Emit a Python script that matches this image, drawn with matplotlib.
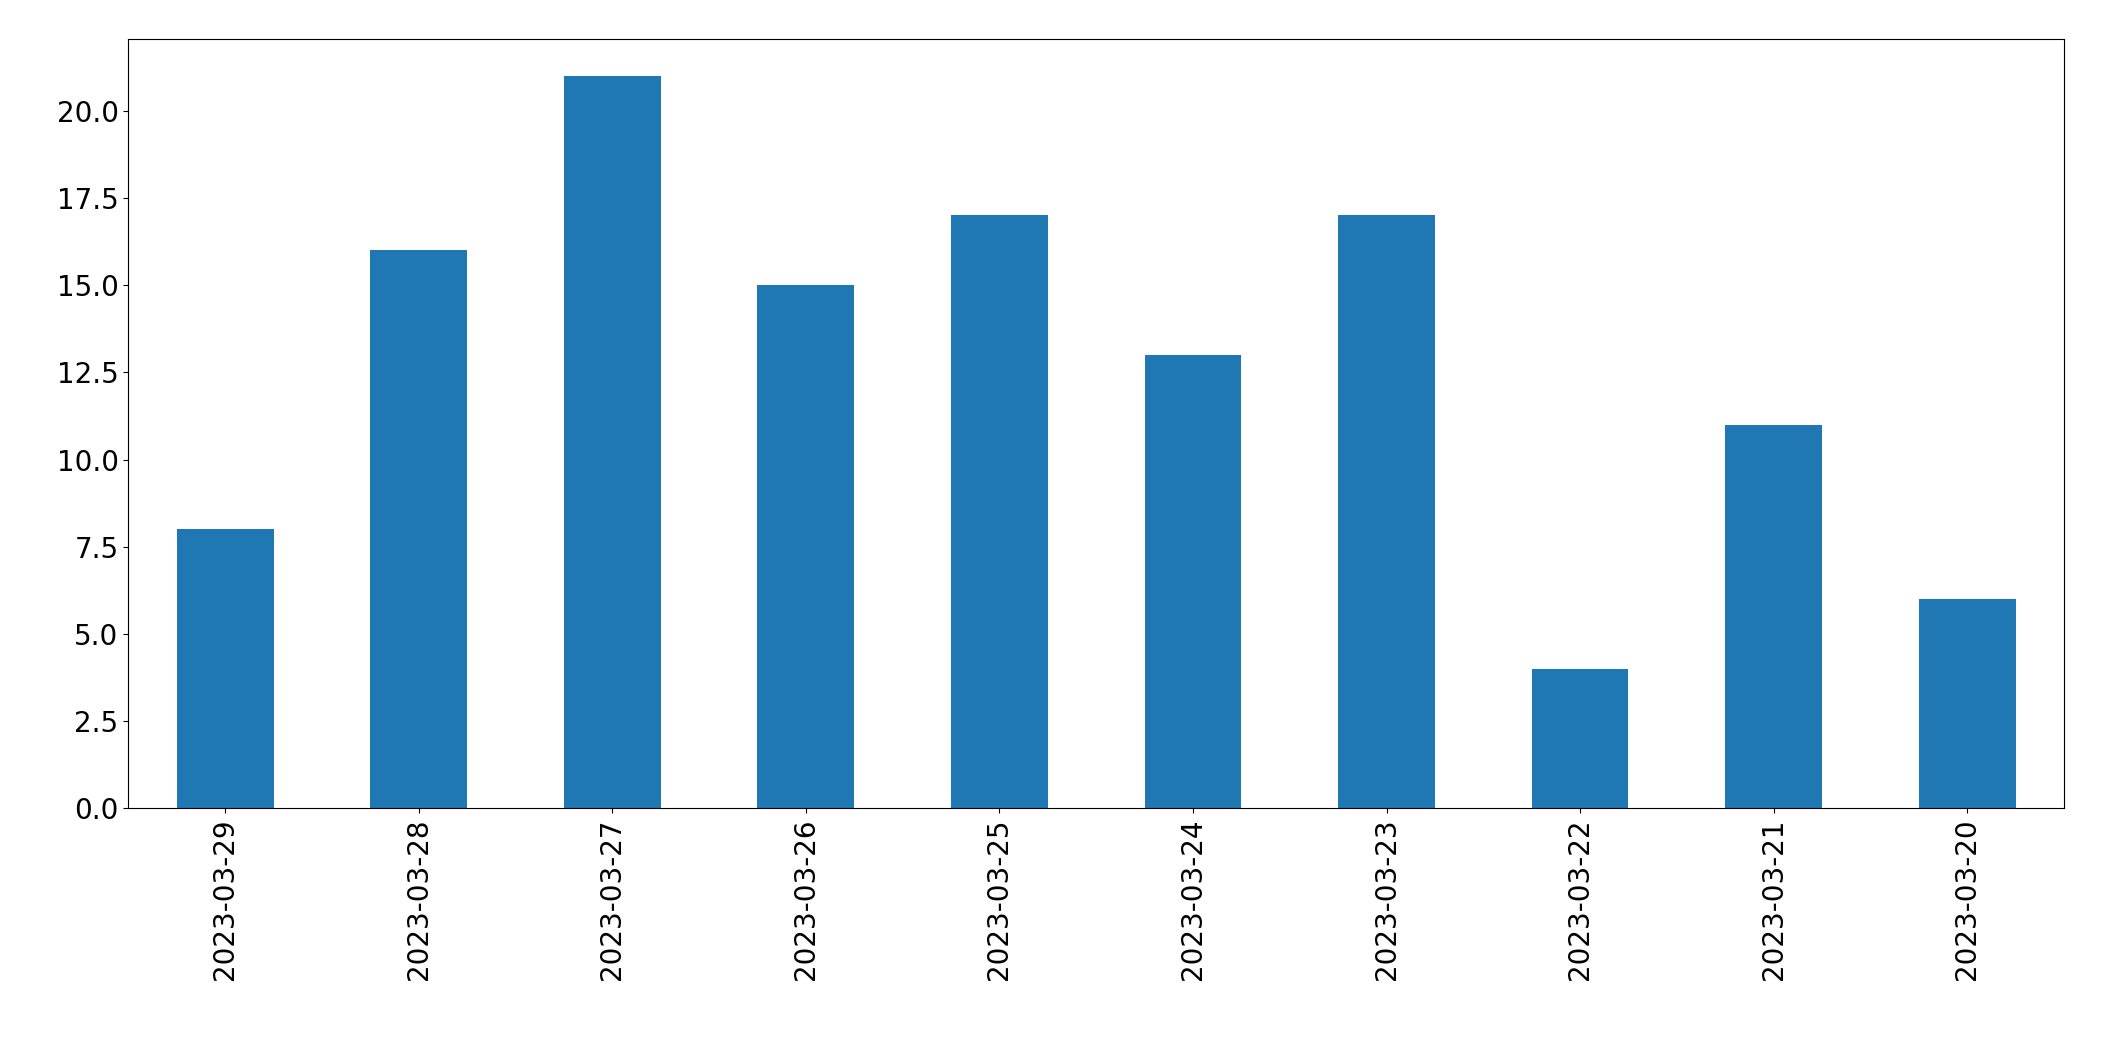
import matplotlib
matplotlib.use("Agg")
import matplotlib.pyplot as plt
import numpy as np

dates = ["2023-03-29","2023-03-28","2023-03-27","2023-03-26","2023-03-25",
         "2023-03-24","2023-03-23","2023-03-22","2023-03-21","2023-03-20"]
counts = [8, 16, 21, 15, 17, 13, 17, 4, 11, 6]

fig = plt.figure(figsize=(21.04, 10.61), dpi=100)
ax = fig.add_axes([0.061, 0.238, 0.92, 0.725])
x = np.arange(len(dates))
ax.bar(x, counts, width=0.5, color="#1f77b4")
ax.set_xlim(-0.5, len(dates) - 0.5)
ax.set_xticks(x)
ax.set_xticklabels(dates, rotation=90)
ax.set_yticks(np.arange(0, 21, 2.5))
ax.tick_params(labelsize=20)
fig.savefig("out.png", dpi=100)
